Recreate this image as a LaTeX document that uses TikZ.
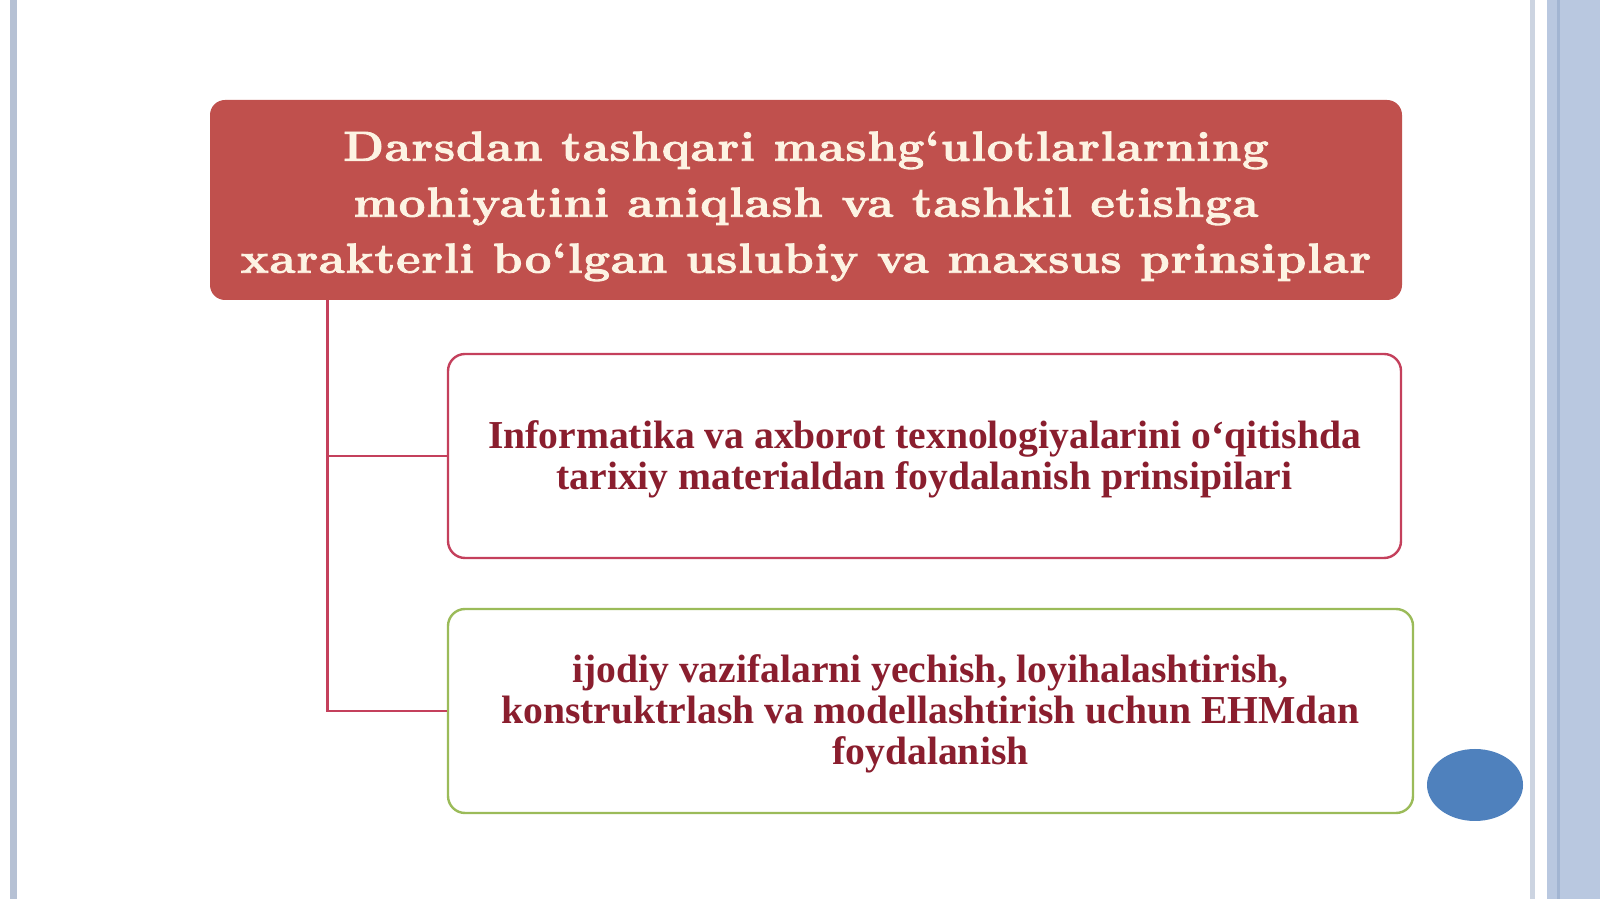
\documentclass[tikz,border=0pt]{standalone}
\usepackage{fontspec}
\newfontfamily\boxfont{Liberation Serif}
\newfontfamily\titlefont[FakeStretch=1.13, FakeBold=2, LetterSpace=1.8]{Latin Modern Roman}
\usetikzlibrary{positioning}

\definecolor{titlered}{HTML}{C0504D}
\definecolor{titletext}{HTML}{FDF3E3}
\definecolor{linkred}{HTML}{C4405C}
\definecolor{itemgreen}{HTML}{9BBB59}
\definecolor{itemtext}{HTML}{8A1E2E}
\definecolor{dotblue}{HTML}{4F81BD}
\definecolor{bandgray}{HTML}{B6C1D4}
\definecolor{bandblue}{HTML}{B9C8E0}
\definecolor{banddark}{HTML}{A2B5D2}

\begin{document}
\begin{tikzpicture}[x=0.5pt, y=0.5pt, font=\boxfont\bfseries,
  titlebox/.style={fill=titlered, rounded corners=7.5pt, text=titletext,
    align=center, inner sep=0pt, minimum width=596pt, minimum height=100pt,
    font=\titlefont\bfseries\fontsize{21}{28}\selectfont},
  itembox/.style={fill=white, rounded corners=8.5pt, line width=1.2pt,
    text=itemtext, align=center, inner sep=0pt, minimum height=102pt,
    font=\boxfont\bfseries\fontsize{19.8}{20.5}\selectfont},
  link/.style={draw=linkred, line width=1.3pt}]
\useasboundingbox (0,0) rectangle (1600,899);
\fill[white] (0,0) rectangle (1600,899);
% slide borders
\fill[bandgray] (10,0) rectangle (17,899);
\fill[bandgray!70] (1530,0) rectangle (1535,899);
\fill[bandblue] (1547,0) rectangle (1600,899);
\fill[banddark] (1557,0) rectangle (1560,899);
%
\node[titlebox] (title) at (806,699)
  {\rule{0pt}{21pt}Darsdan tashqari mashg‘ulotlarlarning\\
   mohiyatini aniqlash va tashkil etishga\\
   xarakterli bo‘lgan uslubiy va maxsus prinsiplar};
\node[itembox, draw=linkred, minimum width=476.5pt] (info) at (924.5,443)
  {\rule{0pt}{17pt}Informatika va axborot texnologiyalarini o‘qitishda\\
   tarixiy materialdan foydalanish prinsipilari};
\node[itembox, draw=itemgreen, minimum width=482.5pt] (ehm) at (930.5,188)
  {\rule{0pt}{17pt}ijodiy vazifalarni yechish, loyihalashtirish,\\
   konstruktrlash va modellashtirish uchun EHMdan\\
   foydalanish};
%
\draw[link] ([xshift=59pt]title.south west) |- (info.west);
\draw[link] ([xshift=59pt]title.south west) |- (ehm.west);
%
\fill[dotblue] (1475,114) ellipse [x radius=24pt, y radius=18pt];
\end{tikzpicture}
\end{document}
